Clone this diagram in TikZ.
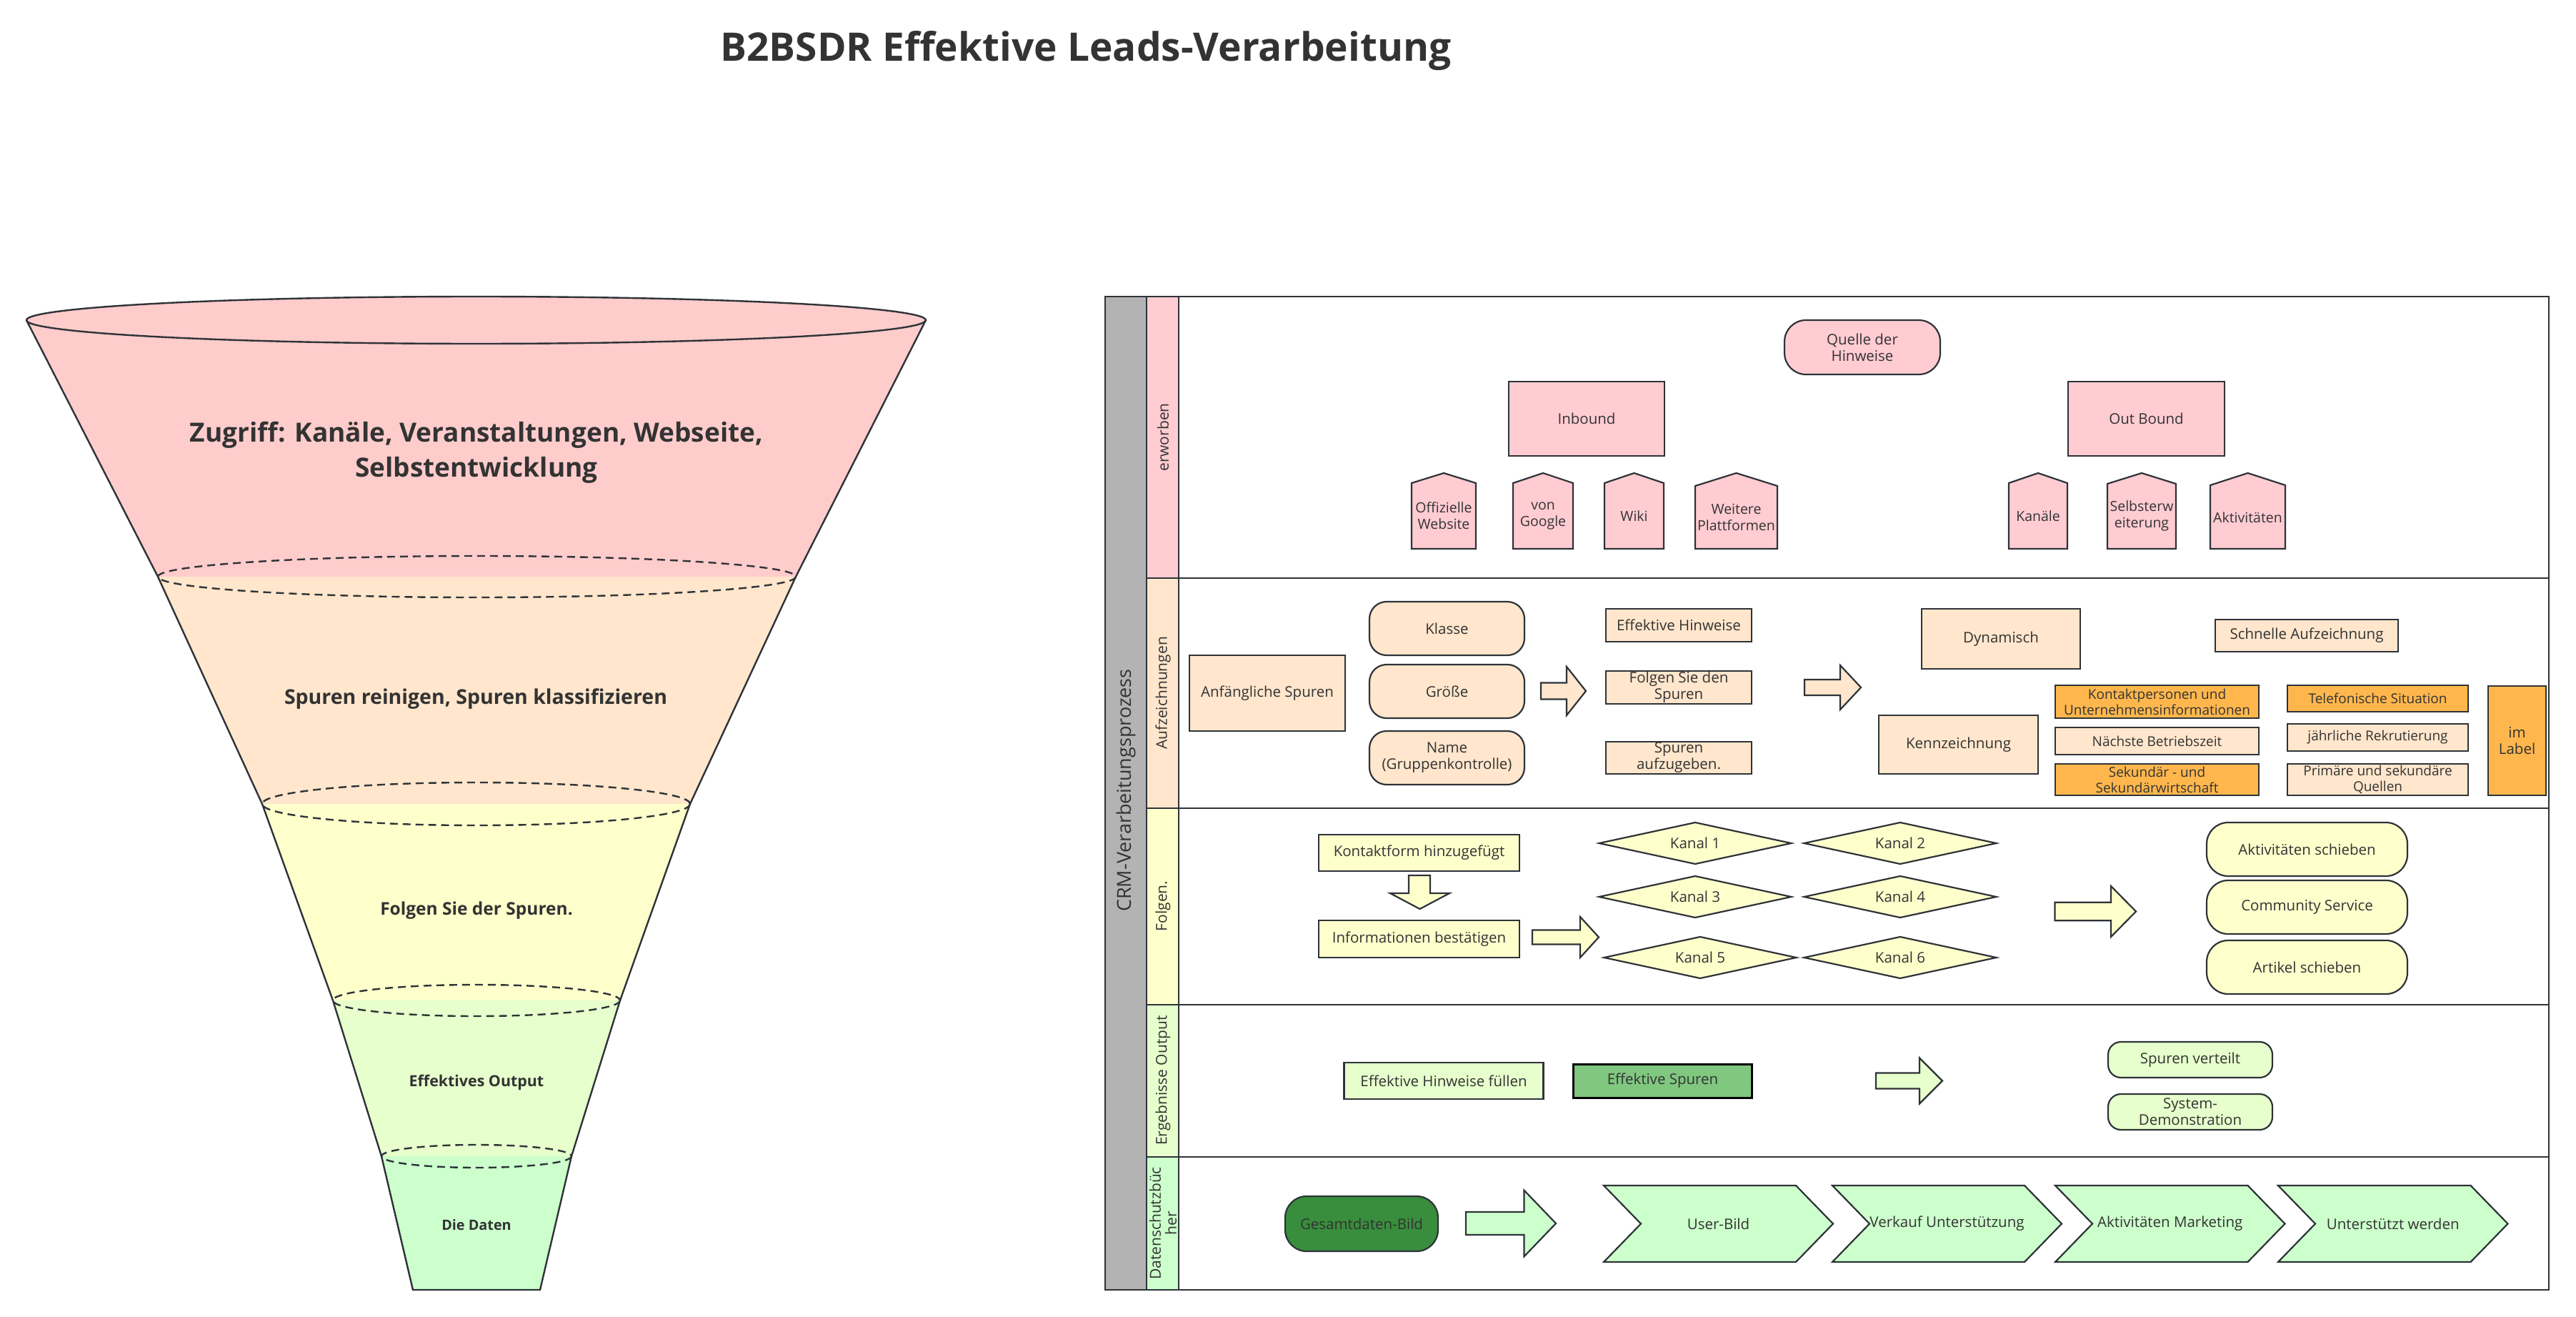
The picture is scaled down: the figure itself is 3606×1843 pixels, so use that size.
\documentclass[tikz,border=0pt]{standalone}
\usepackage{fontspec}
\setmainfont{Open Sans}
\usetikzlibrary{shapes.geometric}
\definecolor{lc}{HTML}{2E3338}
\definecolor{tc}{HTML}{333333}
\definecolor{fpink}{HTML}{FFCCCC}
\definecolor{pinkB}{HTML}{FFCCD2}
\definecolor{peach}{HTML}{FFE6CC}
\definecolor{yel}{HTML}{FFFFCC}
\definecolor{lgrn}{HTML}{E6FFCC}
\definecolor{grn}{HTML}{CCFFCC}
\definecolor{orng}{HTML}{FFB74D}
\definecolor{midgrn}{HTML}{80C780}
\definecolor{dkgrn}{HTML}{388E3C}
\definecolor{greybar}{HTML}{B3B3B3}
\newcommand\fsz[2]{\fontsize{#1}{#2}\selectfont}
\tikzset{
  shp/.style={draw=lc, line width=2.2pt, line join=miter},
  fside/.style={draw=lc, line width=2.4pt},
  fdash/.style={draw=lc, line width=2.4pt, dash pattern=on 11pt off 7pt},
  txt/.style={text=tc, align=center, inner sep=0pt, font=\fsz{20.5}{23}},
  bx/.style={shp, rectangle, txt},
  rbx/.style={shp, rectangle, rounded corners=#1, txt},
  lanelab/.style={rotate=90, text=tc, align=center, inner sep=0pt, font=\fsz{21}{22}},
  ftxt/.style={text=tc, align=center, inner sep=0pt},
  lanesep/.style={draw=lc, line width=2.8pt}
}
\newcommand\rarrow[7]{%
  \draw[shp, fill=#7] (#1,{#4-#5}) -- (#2,{#4-#5}) -- (#2,{#4-#6}) -- (#3,#4) -- (#2,{#4+#6}) -- (#2,{#4+#5}) -- (#1,{#4+#5}) -- cycle;}
\newcommand\pent[6]{%
  \draw[shp, fill=pinkB] (#1,768) -- (#1,#3) -- ({(#1+#2)/2},662) -- (#2,#3) -- (#2,768) -- cycle;
  \node[txt, font=\fsz{19.5}{23}] (#4) at ({(#1+#2)/2},#5) {#6};}
\newcommand\dia[4]{%
  \draw[shp, fill=yel] ({#1-134.5},#2) -- (#1,{#2-29}) -- ({#1+134.5},#2) -- (#1,{#2+29}) -- cycle;
  \node[txt] (#3) at (#1,#2) {#4};}
\newcommand\chev[4]{%
  \draw[shp, fill=grn] (#1,1659) -- ({#2-52},1659) -- (#2,1712.5) -- ({#2-52},1766) -- (#1,1766) -- ({#1+52},1712.5) -- cycle;
  \node[txt] (#3) at ({(#1+#2)/2},1712.5) {#4};}
\begin{document}
\begin{tikzpicture}[x=1pt,y=-1pt]
\useasboundingbox[fill=white] (0,0) rectangle (3606,1843);

% ---------- title ----------
\node[ftxt, anchor=base, font=\fsz{55}{60}\bfseries] (title) at (1520,86) {B2BSDR Effektive Leads-Verarbeitung};

% ---------- funnel ----------
\fill[fpink] (37,448) -- (221,807) -- (1114,807) -- (1296,448) -- cycle;
\fill[peach] (221,807) -- (367,1125) -- (966,1125) -- (1114,807) -- cycle;
\fill[yel] (367,1125) -- (466,1400) -- (868,1400) -- (966,1125) -- cycle;
\fill[lgrn] (466,1400) -- (534,1618) -- (800,1618) -- (868,1400) -- cycle;
\fill[grn] (534,1618) -- (578,1805) -- (756,1805) -- (800,1618) -- cycle;
\draw[fside, fill=fpink] (666.5,448) ellipse [x radius=629.5, y radius=33];
\draw[fside] (37,448) -- (221,807) -- (367,1125) -- (466,1400) -- (534,1618) -- (578,1805) -- (756,1805) -- (800,1618) -- (868,1400) -- (966,1125) -- (1114,807) -- (1296,448);
\draw[fdash] (667.5,807) ellipse [x radius=446.5, y radius=29];
\draw[fdash] (666.5,1125) ellipse [x radius=299.5, y radius=30];
\draw[fdash] (667,1400) ellipse [x radius=201, y radius=22];
\draw[fdash] (667,1618) ellipse [x radius=133, y radius=16];
\node[ftxt, font=\fsz{37}{49}\bfseries] (f1) at (667,633) {Zugriff: Kanäle, Veranstaltungen, Webseite,\\Selbstentwicklung};
\node[ftxt, anchor=base, font=\fsz{28.5}{30}\bfseries] (f2) at (666,985) {Spuren reinigen, Spuren klassifizieren};
\node[ftxt, anchor=base, font=\fsz{24.5}{27}\bfseries] (f3) at (667,1280) {Folgen Sie der Spuren.};
\node[ftxt, anchor=base, font=\fsz{21.4}{24}\bfseries] (f4) at (667,1520) {Effektives Output};
\node[ftxt, anchor=base, font=\fsz{19.8}{22}\bfseries] (f5) at (667,1721) {Die Daten};

% ---------- swimlane frame ----------
\fill[greybar] (1547,415) rectangle (1605,1805);
\fill[pinkB] (1605,415) rectangle (1650,809);
\fill[peach] (1605,809) rectangle (1650,1131);
\fill[yel] (1605,1131) rectangle (1650,1406);
\fill[lgrn] (1605,1406) rectangle (1650,1619);
\fill[grn] (1605,1619) rectangle (1650,1805);
\draw[lanesep] (1605,415) -- (1605,1805);
\draw[lanesep] (1650,415) -- (1650,1805);
\draw[lanesep] (1605,809) -- (3568,809);
\draw[lanesep] (1605,1131) -- (3568,1131);
\draw[lanesep] (1605,1406) -- (3568,1406);
\draw[lanesep] (1605,1619) -- (3568,1619);
\draw[lanesep] (1547,415) rectangle (3568,1805);
\node[lanelab, font=\fsz{27}{28}] (crm) at (1576,1106) {CRM-Verarbeitungsprozess};
\node[lanelab] (l1) at (1628,612) {erworben};
\node[lanelab] (l2) at (1628,970) {Aufzeichnungen};
\node[lanelab] (l3) at (1628,1268) {Folgen.};
\node[lanelab] (l4) at (1628,1512) {Ergebnisse Output};
\node[lanelab] (l5) at (1628,1712) {Datenschutzbüc\\her};

% ---------- lane 1 ----------
\node[rbx=30pt, fill=pinkB, minimum width=218pt, minimum height=76pt] (quelle) at (2607,486) {Quelle der\\Hinweise};
\node[bx, fill=pinkB, minimum width=218pt, minimum height=104pt] (inb) at (2221,586) {Inbound};
\node[bx, fill=pinkB, minimum width=219pt, minimum height=104pt] (outb) at (3004.5,586) {Out Bound};
\pent{1976}{2066}{676}{off}{722}{Offizielle\\Website}
\pent{2118}{2202}{676}{goo}{722}{von\\Google}
\pent{2246}{2329}{676}{wiki}{722}{Wiki}
\pent{2373}{2488}{680}{weit}{724}{Weitere\\Plattformen}
\pent{2812}{2894}{676}{kan}{722}{Kanäle}
\pent{2950}{3046}{677}{selb}{722}{Selbsterw\\eiterung}
\pent{3094}{3199}{679}{akt}{724}{Aktivitäten}

% ---------- lane 2 ----------
\node[bx, fill=peach, minimum width=218pt, minimum height=106pt] (anf) at (1774,970) {Anfängliche Spuren};
\node[rbx=24pt, fill=peach, minimum width=217pt, minimum height=75pt] (klasse) at (2025.5,879.5) {Klasse};
\node[rbx=24pt, fill=peach, minimum width=217pt, minimum height=75pt] (groesse) at (2025.5,967.5) {Größe};
\node[rbx=24pt, fill=peach, minimum width=217pt, minimum height=75pt] (namek) at (2025.5,1060.5) {Name\\(Gruppenkontrolle)};
\rarrow{2157}{2193}{2220}{967}{11.5}{34}{peach}
\node[bx, fill=peach, minimum width=204pt, minimum height=46pt] (effh) at (2350,875) {Effektive Hinweise};
\node[bx, fill=peach, minimum width=204pt, minimum height=46pt] (folg) at (2350,962) {Folgen Sie den\\Spuren};
\node[bx, fill=peach, minimum width=204pt, minimum height=45pt] (aufg) at (2350,1060.5) {Spuren\\aufzugeben.};
\rarrow{2526}{2576}{2605}{962}{11}{31}{peach}
\node[bx, fill=peach, minimum width=222pt, minimum height=84pt] (dyn) at (2801,894) {Dynamisch};
\node[bx, fill=peach, minimum width=223pt, minimum height=82pt] (kenn) at (2741.5,1042) {Kennzeichnung};
\node[bx, fill=peach, minimum width=256pt, minimum height=45pt] (schnell) at (3229,889.5) {Schnelle Aufzeichnung};
\node[bx, fill=orng, minimum width=285pt, minimum height=46pt, font=\fsz{19}{22}] (kontakt) at (3019.5,982) {Kontaktpersonen und\\Unternehmensinformationen};
\node[bx, fill=peach, minimum width=285pt, minimum height=38pt, font=\fsz{19}{22}] (naechste) at (3019.5,1037) {Nächste Betriebszeit};
\node[bx, fill=orng, minimum width=285pt, minimum height=44pt, font=\fsz{19}{22}] (sek) at (3019.5,1091) {Sekundär - und\\Sekundärwirtschaft};
\node[bx, fill=orng, minimum width=253pt, minimum height=37pt, font=\fsz{19}{22}] (tel) at (3328.5,977.5) {Telefonische Situation};
\node[bx, fill=peach, minimum width=253pt, minimum height=38pt, font=\fsz{19}{22}] (jaehr) at (3328.5,1032) {jährliche Rekrutierung};
\node[bx, fill=peach, minimum width=253pt, minimum height=44pt, font=\fsz{19}{22}] (prim) at (3328.5,1091) {Primäre und sekundäre\\Quellen};
\node[bx, fill=orng, minimum width=81pt, minimum height=153pt] (imlabel) at (3523.5,1036.5) {im\\Label};

% ---------- lane 3 ----------
\node[bx, fill=yel, minimum width=281pt, minimum height=51pt] (kform) at (1986.5,1193.5) {Kontaktform hinzugefügt};
\draw[shp, fill=yel] (1972,1225) -- (2002,1225) -- (2002,1250) -- (2029,1250) -- (1987.5,1272) -- (1946,1250) -- (1972,1250) -- cycle;
\node[bx, fill=yel, minimum width=281pt, minimum height=52pt] (info) at (1986.5,1314) {Informationen bestätigen};
\rarrow{2145}{2212}{2238}{1311.5}{10}{28.5}{yel}
\dia{2373}{1180}{k1}{Kanal 1}
\dia{2373}{1255}{k3}{Kanal 3}
\dia{2380}{1340}{k5}{Kanal 5}
\dia{2660}{1180}{k2}{Kanal 2}
\dia{2660}{1255}{k4}{Kanal 4}
\dia{2660}{1340}{k6}{Kanal 6}
\rarrow{2876.5}{2955}{2990}{1275.5}{12.7}{35.5}{yel}
\node[rbx=30pt, fill=yel, minimum width=281pt, minimum height=75pt] (aktsch) at (3229.5,1188.5) {Aktivitäten schieben};
\node[rbx=30pt, fill=yel, minimum width=281pt, minimum height=75pt] (comm) at (3229.5,1269.5) {Community Service};
\node[rbx=30pt, fill=yel, minimum width=281pt, minimum height=75pt] (art) at (3229.5,1353.5) {Artikel schieben};

% ---------- lane 4 ----------
\node[bx, fill=lgrn, minimum width=279pt, minimum height=51pt] (efhf) at (2021,1512.5) {Effektive Hinweise füllen};
\node[bx, draw=black, line width=3pt, fill=midgrn, minimum width=250pt, minimum height=47pt] (efsp) at (2327.5,1512.5) {Effektive Spuren};
\rarrow{2626}{2687}{2719}{1512.5}{11}{32}{lgrn}
\node[rbx=18pt, fill=lgrn, minimum width=230pt, minimum height=50pt] (vert) at (3066,1483) {Spuren verteilt};
\node[rbx=18pt, fill=lgrn, minimum width=230pt, minimum height=50pt] (sysd) at (3066,1556) {System-\\Demonstration};

% ---------- lane 5 ----------
\node[rbx=30pt, fill=dkgrn, minimum width=214pt, minimum height=77pt] (ges) at (1906,1712.5) {Gesamtdaten-Bild};
\rarrow{2052}{2133.5}{2178}{1712}{16}{46.3}{grn}
\chev{2245}{2566}{user}{User-Bild}
\chev{2565}{2886}{verk}{Verkauf Unterstützung}
\chev{2877}{3198.5}{aktm}{Aktivitäten Marketing}
\chev{3189}{3510.5}{unt}{Unterstützt werden}
\end{tikzpicture}
\end{document}
